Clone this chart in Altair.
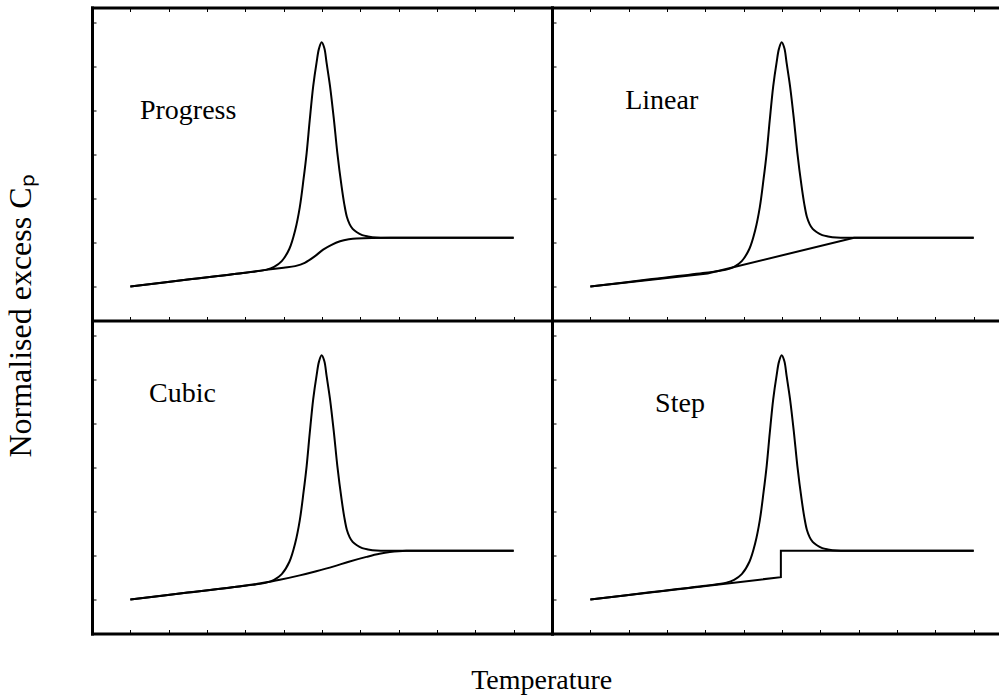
import altair as alt
import pandas as pd

# ---- data (x: temperature units, y: normalised Cp) ----
panel_names = ["Progress", "Linear", "Cubic", "Step"]
label_x = [1.25, 1.91, 1.49, 2.69]
label_y = [3.80, 4.04, 4.48, 4.27]

peak_x = [1.0, 2.5, 4.0, 4.55, 4.75, 4.95, 5.15, 5.30, 5.42, 5.52, 5.60, 5.68, 5.77, 5.86,
          5.92, 5.99, 6.06, 6.12, 6.21, 6.31, 6.40, 6.51, 6.58, 6.65, 6.72, 6.80, 6.90,
          7.05, 7.20, 7.42, 7.8, 9.0, 11.0]
peak_y = [0.0, 0.16, 0.315, 0.385, 0.45, 0.58, 0.86, 1.28, 1.80, 2.45, 3.04, 3.78, 4.55, 5.10,
          5.40, 5.55, 5.42, 5.08, 4.55, 3.80, 3.04, 2.28, 1.88, 1.58, 1.42, 1.31, 1.24,
          1.17, 1.14, 1.115, 1.107, 1.107, 1.107]

progress_x = [1.0, 2.5, 4.0, 4.55, 5.0, 5.3, 5.55, 5.8, 6.03, 6.25, 6.47, 6.7, 6.9, 7.3, 7.8, 9.0, 11.0]
progress_y = [0.0, 0.16, 0.315, 0.38, 0.43, 0.465, 0.54, 0.68, 0.84, 0.95, 1.03, 1.075, 1.095, 1.105, 1.107, 1.107, 1.107]

linear_x = [1.0, 4.06, 7.88, 11.0]
linear_y = [0.0, 0.30, 1.107, 1.107]

cubic_x = [1.0, 2.5, 4.4, 4.9, 5.42, 5.85, 6.29, 6.7, 7.16, 7.5, 7.77, 8.0, 8.2, 9.0, 11.0]
cubic_y = [0.0, 0.16, 0.37, 0.45, 0.55, 0.645, 0.75, 0.86, 0.97, 1.04, 1.08, 1.10, 1.107, 1.107, 1.107]

step_x = [1.0, 5.97, 5.97, 11.0]
step_y = [0.0, 0.51, 1.107, 1.107]

base_x = [progress_x, linear_x, cubic_x, step_x]
base_y = [progress_y, linear_y, cubic_y, step_y]
base_interp = ["monotone", "linear", "monotone", "linear"]

x_ticks = list(range(0, 13))
y_ticks = list(range(0, 7))

FONT = "Liberation Serif"
FS = 28
H = 313
# left panels show the full 0-12 range; right panels are cut by the page edge
x_max = [12.0, 11.66, 12.0, 11.66]
widths = [460, 447, 460, 447]


def panel(i, top_row):
    xscale = alt.Scale(domain=[0, x_max[i]], nice=False, zero=False)
    yscale = alt.Scale(domain=[-0.77, 6.34], nice=False, zero=False)
    tick_axis = dict(labels=False, title=None, domain=False, grid=False,
                     tickSize=4, offset=-4, tickColor="black", tickWidth=1)
    dom_axis = dict(labels=False, title=None, ticks=False, grid=False, domain=True,
                    domainColor="black", domainWidth=3, domainCap="square")
    peak_df = pd.DataFrame({"x": peak_x, "y": peak_y})
    base_df = pd.DataFrame({"x": base_x[i], "y": base_y[i]})
    lab_df = pd.DataFrame({"x": [label_x[i]], "y": [label_y[i]], "t": [panel_names[i]]})

    peak = alt.Chart(peak_df).mark_line(
        color="black", strokeWidth=2, interpolate="catmull-rom"
    ).encode(
        x=alt.X("x:Q", scale=xscale, axis=alt.Axis(values=x_ticks, orient="bottom", **tick_axis)),
        y=alt.Y("y:Q", scale=yscale, axis=alt.Axis(values=y_ticks, orient="left", **tick_axis)),
    )
    base = alt.Chart(base_df).mark_line(
        color="black", strokeWidth=2, interpolate=base_interp[i]
    ).encode(
        x=alt.X("x:Q", scale=xscale,
                axis=(alt.Axis(values=x_ticks, orient="top", **tick_axis) if top_row else None)),
        y=alt.Y("y:Q", scale=yscale, axis=alt.Axis(orient="left", **dom_axis)),
    )
    label = alt.Chart(lab_df).mark_text(
        align="left", baseline="alphabetic", font=FONT, fontSize=FS, color="black"
    ).encode(
        x=alt.X("x:Q", scale=xscale, axis=alt.Axis(orient="bottom", **dom_axis)),
        y=alt.Y("y:Q", scale=yscale, axis=None),
        text="t:N",
    )
    layers = [peak, base, label]
    if top_row:
        frame_top = alt.Chart(lab_df).mark_text(opacity=0, font=FONT, fontSize=FS).encode(
            x=alt.X("x:Q", scale=xscale, axis=alt.Axis(orient="top", **dom_axis)),
            y=alt.Y("y:Q", scale=yscale, axis=None),
            text="t:N",
        )
        layers.append(frame_top)
    return alt.layer(*layers).resolve_axis(x="independent", y="independent").properties(
        width=widths[i], height=H)


grid = alt.concat(
    panel(0, True), panel(1, True), panel(2, False), panel(3, False),
    columns=2, spacing=0, bounds="flush",
).properties(
    title=alt.TitleParams("Temperature", orient="bottom", anchor="middle", font=FONT, fontSize=FS,
                          fontWeight="normal", color="black", offset=33, dx=-3.5)
)
chart = alt.hconcat(grid).properties(
    title=alt.TitleParams("Normalised excess Cₚ", orient="left", anchor="middle", font=FONT, fontSize=32,
                          fontWeight="normal", color="black", offset=54, dx=35),
    padding={"left": 4, "top": 6.5, "right": 0, "bottom": 5},
).configure_view(stroke=None).configure_axis(domain=False)

chart.save("out.html", embed_options={"renderer": "svg", "actions": False})
